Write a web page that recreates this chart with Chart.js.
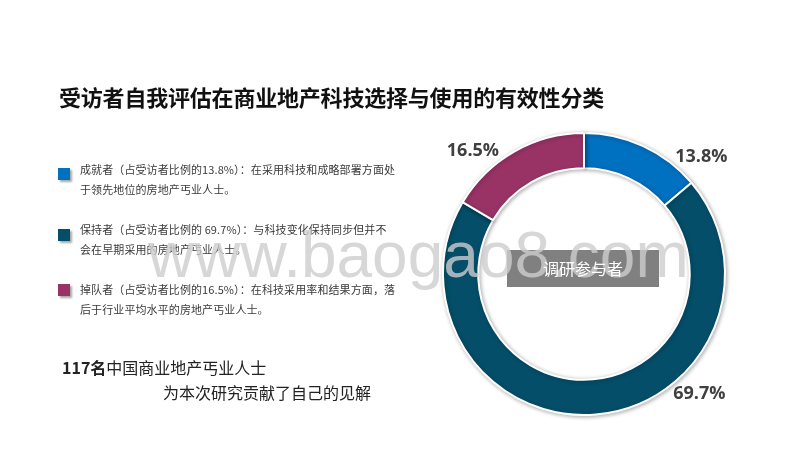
<!DOCTYPE html>
<html>
<head>
<meta charset="utf-8">
<script src="https://cdn.jsdelivr.net/npm/chart.js@4"></script>
<style>
  html, body { margin: 0; padding: 0; background: #fff; }
  #wrap { position: relative; width: 800px; height: 450px; overflow: hidden;
          font-family: "Noto Sans CJK SC", "Noto Sans", sans-serif; }
  #chart { position: absolute; left: 0; top: 0; }
  .abs { position: absolute; white-space: nowrap; }
  #title { left: 59px; top: 80px; font-size: 22px; font-weight: bold; color: #111; letter-spacing: -0.2px; }
  .sq { position: absolute; width: 12px; height: 12px; box-shadow: 2px 2px 2px rgba(0,0,0,0.35); }
  .lg { position: absolute; left: 80px; font-size: 11px; line-height: 20px; color: #3a3a3a; letter-spacing: 0.1px; }
  #note1 { left: 62px; top: 355px; font-size: 16px; color: #222; }
  #note2 { left: 163px; top: 380px; font-size: 16px; color: #222; }
  #boxbg { left: 507px; top: 250px; width: 152px; height: 37px; background: #808080; }
  #boxtxt { left: 507px; top: 250px; width: 152px; height: 37px; line-height: 37px; text-align: center;
            color: #fff; font-size: 16px; }
  #wm { left: 148px; top: 218px; font-family: "Liberation Sans", Arial, sans-serif; font-size: 64px;
        color: rgba(205,205,205,0.8); pointer-events: none; }
</style>
</head>
<body>
<div id="wrap">
  <canvas id="chart" width="800" height="450"></canvas>
  <div id="title" class="abs">受访者自我评估在商业地产科技选择与使用的有效性分类</div>

  <div class="sq" style="left:58px; top:168px; background:#0070c0;"></div>
  <div class="lg" style="top:159px;">成就者（占受访者比例的13.8%）：在采用科技和成略部署方面处<br>于领先地位的房地产丐业人士。</div>

  <div class="sq" style="left:58px; top:229px; background:#044e6a;"></div>
  <div class="lg" style="top:219px;">保持者（占受访者比例的 69.7%）：与科技变化保持同步但并不<br>会在早期采用的房地产丐业人士。</div>

  <div class="sq" style="left:58px; top:284px; background:#993366;"></div>
  <div class="lg" style="top:279px;">掉队者（占受访者比例的16.5%）：在科技采用率和结果方面，落<br>后于行业平均水平的房地产丐业人士。</div>

  <div id="note1" class="abs"><b>117名</b>中国商业地产丐业人士</div>
  <div id="note2" class="abs">为本次研究贡献了自己的见解</div>

  <div id="boxbg" class="abs"></div>
  <div id="wm" class="abs">www.baogao8.com</div>
  <div id="boxtxt" class="abs">调研参与者</div>
</div>
<script>
  // segment data, clockwise from 12 o'clock
  var groups = ["成就者", "保持者", "掉队者"];
  var shares = [13.8, 69.7, 16.5];
  var colors = ["#0070c0", "#044e6a", "#993366"];
  // label placement: angle (deg, clockwise from top) and gap outside the ring
  var labelAngles = [45, 136, 318];
  var labelGap = 25;

  var ringShadow = {
    id: 'ringShadow',
    beforeDatasetsDraw: function(chart) {
      var ctx = chart.ctx;
      ctx.save();
      ctx.shadowColor = 'rgba(0,0,0,0.3)';
      ctx.shadowBlur = 4;
      ctx.shadowOffsetX = 1;
      ctx.shadowOffsetY = 1;
    },
    afterDatasetsDraw: function(chart) {
      chart.ctx.restore();
    }
  };

  var pctLabels = {
    id: 'pctLabels',
    afterDraw: function(chart) {
      var ctx = chart.ctx;
      var arcs = chart.getDatasetMeta(0).data;
      ctx.save();
      ctx.font = 'bold 18px "Open Sans", sans-serif';
      ctx.fillStyle = '#404040';
      ctx.textAlign = 'center';
      ctx.textBaseline = 'middle';
      arcs.forEach(function(arc, i) {
        var a = labelAngles[i] * Math.PI / 180;
        var r = arc.outerRadius + labelGap;
        ctx.fillText(shares[i].toFixed(1) + '%', arc.x + r * Math.sin(a), arc.y - r * Math.cos(a));
      });
      ctx.restore();
    }
  };

  var ctx = document.getElementById('chart').getContext('2d');
  new Chart(ctx, {
    type: 'doughnut',
    data: {
      labels: groups,
      datasets: [{
        data: shares,
        backgroundColor: colors,
        borderColor: '#ffffff',
        borderWidth: 2,
        hoverOffset: 0
      }]
    },
    options: {
      responsive: false,
      animation: false,
      cutout: '75%',
      layout: { padding: { left: 442, right: 74, top: 132, bottom: 34 } },
      plugins: { legend: { display: false }, tooltip: { enabled: false } },
      events: []
    },
    plugins: [ringShadow, pctLabels]
  });
</script>
</body>
</html>
